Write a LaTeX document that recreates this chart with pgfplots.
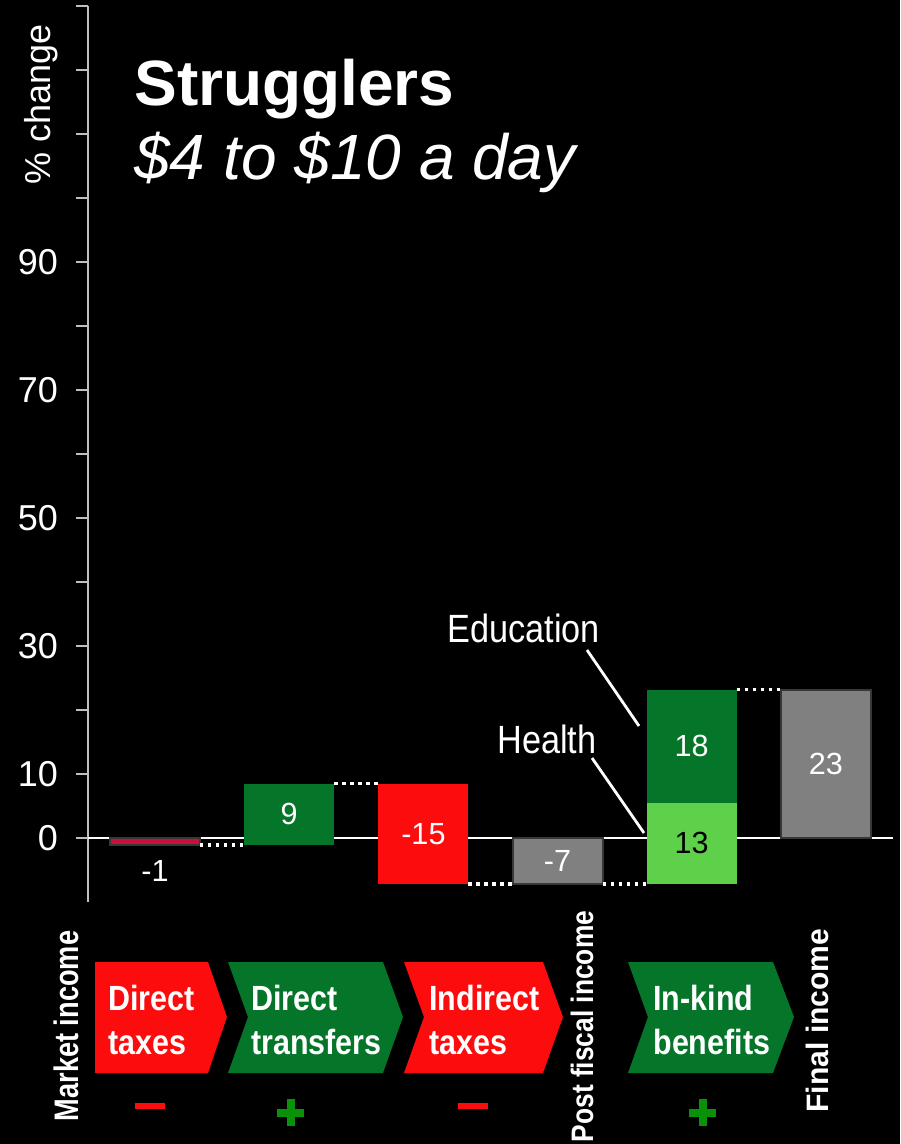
\documentclass[border=0pt]{standalone}
\usepackage{fontspec}
\setmainfont{Liberation Sans}
\newfontfamily\chevfont[FakeStretch=0.87]{Liberation Sans}
\newfontfamily\mktfont[FakeStretch=0.80]{Liberation Sans}
\newfontfamily\pffont[FakeStretch=0.85]{Liberation Sans}
\newfontfamily\finfont[FakeStretch=0.97]{Liberation Sans}
\newfontfamily\annfont[FakeStretch=0.87]{Liberation Sans}
\usepackage{pgfplots}
\pgfplotsset{compat=1.18}
\definecolor{cred}{RGB}{252,12,12}
\definecolor{cgreen}{RGB}{5,117,41}
\definecolor{clight}{RGB}{94,208,74}
\definecolor{cgray}{RGB}{128,128,128}
\definecolor{cedge}{RGB}{55,55,55}
\definecolor{ccrim}{RGB}{200,16,60}
\definecolor{caxis}{RGB}{192,192,192}
\definecolor{cplus}{RGB}{10,145,10}
\begin{document}
\begin{tikzpicture}
\fill[black] (0,0) rectangle (450pt,-572pt);
\useasboundingbox (0,0) rectangle (450pt,-572pt);
\begin{axis}[at={(44pt,-451pt)}, anchor=south west, scale only axis,
  width=402.5pt, height=448pt,
  xmin=0.5, xmax=6.5, ymin=-10, ymax=130,
  axis x line=none, axis y line*=left,
  y axis line style={caxis, line width=1pt},
  ytick={0,10,20,30,40,50,60,70,80,90,100,110,120,130},
  yticklabels={0,10,,30,,50,,70,,90,,,,},
  tick align=outside, major tick length=6pt,
  tick style={caxis, line width=1pt},
  yticklabel style={font=\fontsize{18}{20}\selectfont, text=white, xshift=-5.5pt},
  clip=false]
% zero line
\addplot[white, line width=1pt] coordinates {(0.5,0) (6.5,0)};
% bars
\addplot[fill=ccrim, draw=cedge, line width=1pt] coordinates {(0.665,0) (1.335,0) (1.335,-1.1) (0.665,-1.1)} -- cycle;
\addplot[fill=cgreen, draw=none] coordinates {(1.665,-1.1) (2.335,-1.1) (2.335,8.5) (1.665,8.5)} -- cycle;
\addplot[fill=cred, draw=none] coordinates {(2.665,8.5) (3.335,8.5) (3.335,-7.2) (2.665,-7.2)} -- cycle;
\addplot[fill=cgray, draw=cedge, line width=1pt] coordinates {(3.665,0) (4.335,0) (4.335,-7.2) (3.665,-7.2)} -- cycle;
\addplot[fill=clight, draw=none] coordinates {(4.665,-7.2) (5.335,-7.2) (5.335,5.5) (4.665,5.5)} -- cycle;
\addplot[fill=cgreen, draw=none] coordinates {(4.665,5.5) (5.335,5.5) (5.335,23.2) (4.665,23.2)} -- cycle;
\addplot[fill=cgray, draw=cedge, line width=1pt] coordinates {(5.665,0) (6.335,0) (6.335,23.2) (5.665,23.2)} -- cycle;
% connectors
\addplot[white, line width=1.7pt, dash pattern=on 1.7pt off 2.3pt] coordinates {(1.335,-1.1) (1.665,-1.1)};
\addplot[white, line width=1.7pt, dash pattern=on 1.7pt off 2.3pt] coordinates {(2.335,8.5) (2.665,8.5)};
\addplot[white, line width=1.7pt, dash pattern=on 1.7pt off 2.3pt] coordinates {(3.335,-7.2) (3.665,-7.2)};
\addplot[white, line width=1.7pt, dash pattern=on 1.7pt off 2.3pt] coordinates {(4.335,-7.2) (4.665,-7.2)};
\addplot[white, line width=1.7pt, dash pattern=on 1.7pt off 2.3pt] coordinates {(5.335,23.2) (5.665,23.2)};
% labels
\node[text=white, font=\fontsize{15.3}{18}\selectfont] at (axis cs:1,-5.1) {-1};
\node[text=white, font=\fontsize{15.3}{18}\selectfont] at (axis cs:2,3.7) {9};
\node[text=white, font=\fontsize{15.3}{18}\selectfont] at (axis cs:3,0.65) {-15};
\node[text=white, font=\fontsize{15.3}{18}\selectfont] at (axis cs:4,-3.6) {-7};
\node[text=white, font=\fontsize{15.3}{18}\selectfont] at (axis cs:5,14.35) {18};
\node[text=black, font=\fontsize{15.3}{18}\selectfont] at (axis cs:5,-0.85) {13};
\node[text=white, font=\fontsize{15.3}{18}\selectfont] at (axis cs:6,11.6) {23};
\end{axis}
\begin{scope}[x=0.5pt, y=-0.5pt]
% y label
\node[rotate=90, anchor=base, inner sep=0, text=white, font=\fontsize{18}{20}\selectfont] at (50,104.5) {\% change};
% title
\node[anchor=base west, inner sep=0, text=white, font=\fontsize{32}{36}\selectfont\bfseries] at (134,106) {Strugglers};
\node[anchor=base west, inner sep=0, text=white, font=\fontsize{32}{36}\selectfont\itshape] at (134,180) {\$4 to \$10 a day};
% annotations
\node[anchor=base west, inner sep=0, text=white, font=\annfont\fontsize{19.7}{22}\selectfont] at (447,642) {Education};
\node[anchor=base west, inner sep=0, text=white, font=\annfont\fontsize{19.7}{22}\selectfont] at (497,753) {Health};
\draw[white, line width=1.4pt] (587,650) -- (639,726);
\draw[white, line width=1.4pt] (592,758) -- (644,833);
% chevrons
\fill[cred] (95,962) -- (208,962) -- (227,1017) -- (208,1073) -- (95,1073) -- cycle;
\fill[cgreen] (228,962) -- (383,962) -- (403,1017) -- (383,1073) -- (228,1073) -- (248,1017) -- cycle;
\fill[cred] (404,962) -- (543,962) -- (563,1017) -- (543,1073) -- (404,1073) -- (424,1017) -- cycle;
\fill[cgreen] (628,962) -- (773,962) -- (794,1017) -- (773,1073) -- (628,1073) -- (648,1017) -- cycle;
\begin{scope}[every node/.style={anchor=base west, inner sep=0, text=white, font=\chevfont\bfseries\fontsize{17.5}{20}\selectfont}]
\node at (108,1010) {Direct};
\node at (108,1054) {taxes};
\node at (251,1010) {Direct};
\node at (251,1054) {transfers};
\node at (429,1010) {Indirect};
\node at (429,1054) {taxes};
\node at (653,1010) {In-kind};
\node at (653,1054) {benefits};
\end{scope}
% signs
\fill[cred] (135,1103) rectangle (165,1109);
\fill[cred] (458,1103) rectangle (488,1109);
\fill[cplus] (277,1108.5) rectangle (304,1116.5);
\fill[cplus] (286.5,1099) rectangle (294.5,1126);
\fill[cplus] (689,1108.5) rectangle (716,1116.5);
\fill[cplus] (698.5,1099) rectangle (706.5,1126);
% rotated stage labels
\node[rotate=90, anchor=base, inner sep=0, text=white, font=\mktfont\bfseries\fontsize{17}{20}\selectfont] at (78,1026) {Market income};
\node[rotate=90, anchor=base, inner sep=0, text=white, font=\pffont\bfseries\fontsize{15.5}{18}\selectfont] at (593,1026.5) {Post fiscal income};
\node[rotate=90, anchor=base, inner sep=0, text=white, font=\finfont\bfseries\fontsize{15.5}{18}\selectfont] at (828,1020.5) {Final income};
\end{scope}
\end{tikzpicture}
\end{document}
